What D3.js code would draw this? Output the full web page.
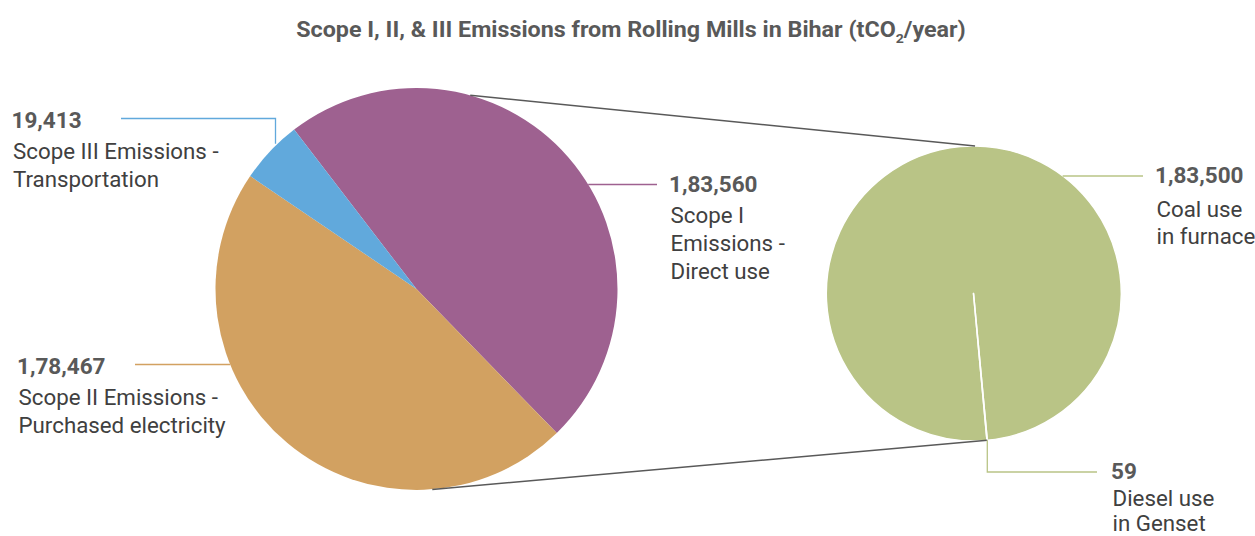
<!DOCTYPE html>
<html>
<head>
<meta charset="utf-8">
<script src="https://cdn.jsdelivr.net/npm/d3@7"></script>
<style>
  html, body { margin: 0; padding: 0; background: #ffffff; }
  svg { display: block; font-family: Roboto, "Noto Sans", Arial, sans-serif; }
</style>
</head>
<body>
<svg id="chart" width="1255" height="536"></svg>
<script>
// Main pie: emission scopes
const scopeNames  = ["Scope I Emissions - Direct use", "Scope II Emissions - Purchased electricity", "Scope III Emissions - Transportation"];
const scopeValues = [183560, 178467, 19413];
const scopeValueLabels = ["1,83,560", "1,78,467", "19,413"];
const scopeColors = ["#9e6190", "#d2a161", "#61a9dc"];

// Secondary pie: breakdown of Scope I
const directNames  = ["Coal use in furnace", "Diesel use in Genset"];
const directValues = [183500, 59];
const directValueLabels = ["1,83,500", "59"];
const directColors = ["#b9c486", "#b9c486"];

const deg = Math.PI / 180;
const svg = d3.select("#chart");

// Geometry of the two pies
const main = { cx: 416.5, cy: 289, r: 201, start: -37.5 * deg };
const sub  = { cx: 973.5, cy: 293.5, r: 147.5, start: 174.75 * deg };

const textDark = "#404040";
const textValue = "#595959";

// ---------- Title ----------
const title = svg.append("text")
  .attr("x", 631).attr("y", 37)
  .attr("text-anchor", "middle")
  .attr("font-size", 21.5).attr("font-weight", 700)
  .attr("fill", textValue);
title.append("tspan").text("Scope I, II, & III Emissions from Rolling Mills in Bihar (tCO");
title.append("tspan").attr("font-size", 13).attr("dy", 6).text("2");
title.append("tspan").attr("dy", -6).text("/year)");
// condense the title to its set width
{
  const w = title.node().getComputedTextLength();
  const target = 670;
  title.attr("transform", `translate(631,0) scale(${target / w},1) translate(-631,0)`);
}

// ---------- Pies ----------
const mainPie = d3.pie().sort(null).value(d => d)
  .startAngle(main.start).endAngle(main.start + 2 * Math.PI);
const mainArcs = mainPie(scopeValues);
const mainArc = d3.arc().innerRadius(0).outerRadius(main.r);

const subPie = d3.pie().sort(null).value(d => d)
  .startAngle(sub.start).endAngle(sub.start + 2 * Math.PI);
const subArcs = subPie(directValues);
const subArc = d3.arc().innerRadius(0).outerRadius(sub.r);

// point on a circle at a d3 angle (clockwise from 12 o'clock)
const onCircle = (c, a) => [c.cx + c.r * Math.sin(a), c.cy - c.r * Math.cos(a)];
// x on a circle edge at a given y / y at a given x
const edgeX = (c, y, side) => c.cx + side * Math.sqrt(c.r * c.r - (y - c.cy) * (y - c.cy));
const edgeY = (c, x, side) => c.cy + side * Math.sqrt(c.r * c.r - (x - c.cx) * (x - c.cx));

svg.append("g").attr("transform", `translate(${main.cx},${main.cy})`)
  .selectAll("path").data(mainArcs).join("path")
  .attr("d", mainArc)
  .attr("fill", (d, i) => scopeColors[i]);

svg.append("g").attr("transform", `translate(${sub.cx},${sub.cy})`)
  .selectAll("path").data(subArcs).join("path")
  .attr("d", subArc)
  .attr("fill", (d, i) => directColors[i])
  .attr("stroke", "#ffffff").attr("stroke-width", 1.5).attr("stroke-linejoin", "round");

// ---------- Connector lines between the pies ----------
const dieselEdge = onCircle(sub, subArcs[1].startAngle);
const connectors = [
  [onCircle(main, 15.5 * deg), onCircle(sub, 0.6 * deg)],
  [onCircle(main, 175.5 * deg), dieselEdge]
];
svg.append("g").selectAll("line").data(connectors).join("line")
  .attr("x1", d => d[0][0]).attr("y1", d => d[0][1])
  .attr("x2", d => d[1][0]).attr("y2", d => d[1][1])
  .attr("stroke", "#595959").attr("stroke-width", 1.5);

// ---------- Labels ----------
function label(x, yValue, value, lines, gap = 31, lineH = 28) {
  const g = svg.append("g");
  g.append("text").attr("x", x).attr("y", yValue)
    .attr("font-size", 22.5).attr("font-weight", 700).attr("fill", textValue)
    .text(value);
  lines.forEach((t, k) => {
    g.append("text").attr("x", x + 1.5).attr("y", yValue + gap + k * lineH)
      .attr("font-size", 22.3).attr("fill", textDark)
      .text(t);
  });
}
const leader = (pts, color) => svg.append("path")
  .attr("d", d3.line()(pts)).attr("fill", "none")
  .attr("stroke", color).attr("stroke-width", 1.3);

// Scope III (elbow leader)
{
  const x = 275.5, yTop = 118.5;
  leader([[x, edgeY(main, x, -1) - 2], [x, yTop], [121, yTop]], scopeColors[2]);
  label(11.5, 127.5, scopeValueLabels[2], ["Scope III Emissions -", "Transportation"]);
}
// Scope II
{
  const y = 364.5;
  leader([[edgeX(main, y, -1), y], [135, y]], scopeColors[1]);
  label(17, 374, scopeValueLabels[1], ["Scope II Emissions -", "Purchased electricity"]);
}
// Scope I
{
  const y = 184.5;
  leader([[edgeX(main, y, 1), y], [657, y]], scopeColors[0]);
  label(669, 192, scopeValueLabels[0], ["Scope I", "Emissions -", "Direct use"]);
}
// Coal
{
  const y = 176;
  leader([[edgeX(sub, y, 1), y], [1143, y]], directColors[0]);
  label(1155, 183, directValueLabels[0], ["Coal use", "in furnace"], 34, 27);
}
// Diesel (elbow leader)
{
  const y = 472;
  leader([dieselEdge, [dieselEdge[0], y], [1097, y]], directColors[1]);
  label(1111, 478.5, directValueLabels[1], ["Diesel use", "in Genset"], 27.5, 25);
}
</script>
</body>
</html>
